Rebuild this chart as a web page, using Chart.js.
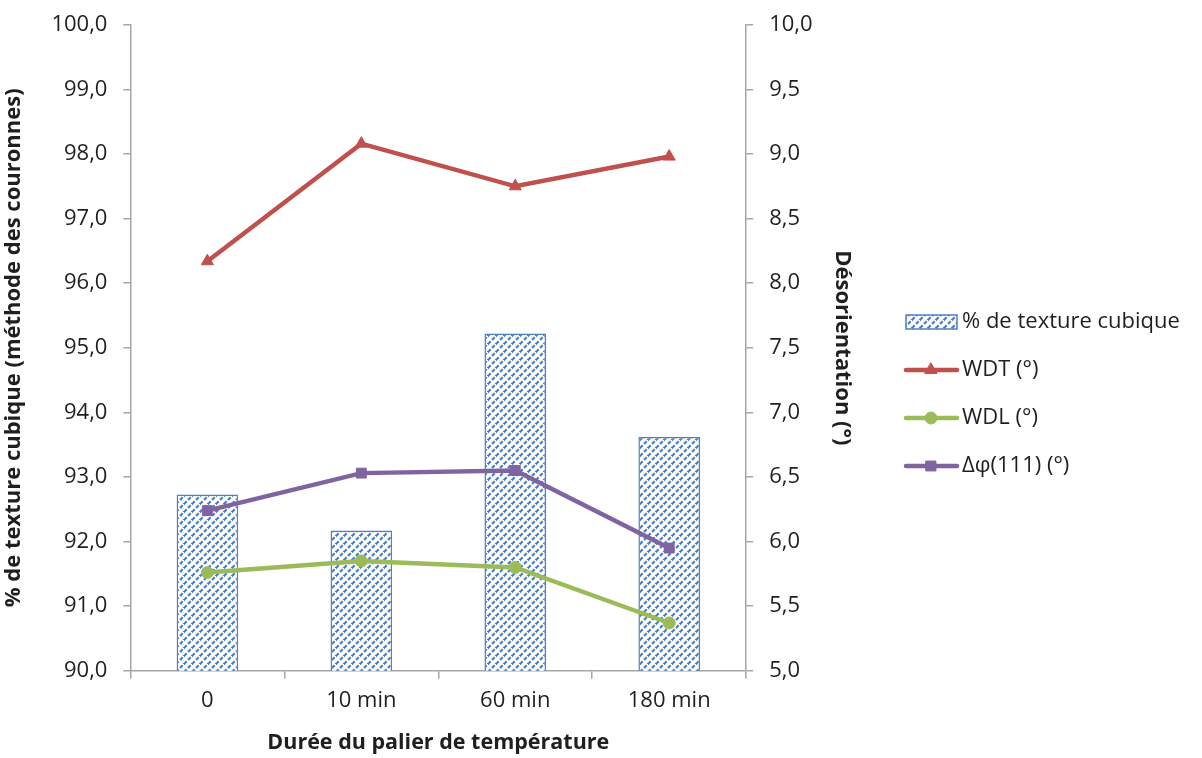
<!DOCTYPE html>
<html>
<head>
<meta charset="utf-8">
<script src="https://cdn.jsdelivr.net/npm/chart.js@4"></script>
<style>
  body { margin: 0; background: #fff; }
  #wrap { width: 1202px; height: 758px; }
</style>
</head>
<body>
<div id="wrap"><canvas id="myChart" width="1202" height="758"></canvas></div>
<script>
var categories = ['0', '10 min', '60 min', '180 min'];
var texture = [92.73, 92.17, 95.22, 93.62];
var wdt = [8.17, 9.08, 8.75, 8.98];
var wdl = [5.76, 5.85, 5.80, 5.37];
var dphi = [6.24, 6.53, 6.55, 5.95];

var FONT = '"Open Sans", Lato, sans-serif';
var BLUE = '#4f81bd';
var RED = '#c0504d';
var GREEN = '#9bbb59';
var PURPLE = '#8064a2';
var AXIS = '#a6a6a6';
var TEXT = '#1f1f1f';

function makeHatch() {
    var c = document.createElement('canvas');
    c.width = 8; c.height = 8;
    var g = c.getContext('2d');
    g.fillStyle = '#fff';
    g.fillRect(0, 0, 8, 8);
    g.strokeStyle = '#4a7dc0';
    g.lineWidth = 2.2;
    g.setLineDash([3.8, 1.86]);
    g.beginPath();
    g.moveTo(0, 8); g.lineTo(8, 0);
    g.stroke();
    g.beginPath();
    g.moveTo(-2, 2); g.lineTo(2, -2);
    g.moveTo(6, 10); g.lineTo(10, 6);
    g.stroke();
    return g.createPattern(c, 'repeat');
}

function fmt(v) {
    return Number(v).toFixed(1).replace('.', ',');
}

var ctx = document.getElementById('myChart');
var hatch = makeHatch();

var legendPlugin = {
    id: 'sideLegend',
    afterDraw: function(chart) {
        var g = chart.ctx;
        g.save();
        g.font = '22px ' + FONT;
        g.textBaseline = 'middle';
        // bar item
        g.fillStyle = hatch;
        g.fillRect(906, 315, 51, 14);
        g.strokeStyle = BLUE;
        g.lineWidth = 1.5;
        g.strokeRect(906, 315, 51, 14);
        g.fillStyle = TEXT;
        g.fillText('% de texture cubique', 962, 322);
        var items = [
            { label: 'WDT (°)', color: RED, style: 'triangle', r: 7, y: 370 },
            { label: 'WDL (°)', color: GREEN, style: 'circle', r: 6, y: 418 },
            { label: 'Δφ(111) (°)', color: PURPLE, style: 'rect', r: 7, y: 466 }
        ];
        items.forEach(function(it) {
            g.strokeStyle = it.color;
            g.lineWidth = 4.5;
            g.lineCap = 'round';
            g.beginPath();
            g.moveTo(906, it.y);
            g.lineTo(957, it.y);
            g.stroke();
            g.fillStyle = it.color;
            g.lineWidth = 1;
            Chart.helpers.drawPoint(g, { pointStyle: it.style, radius: it.r, borderWidth: 1 }, 931, it.y);
            g.fillStyle = TEXT;
            g.fillText(it.label, 962, it.y);
        });
        g.restore();
    }
};

function lineSet(label, data, color, style, r) {
    return {
        type: 'line',
        label: label,
        data: data,
        yAxisID: 'y2',
        borderColor: color,
        backgroundColor: color,
        borderWidth: 4.5,
        pointStyle: style,
        pointRadius: r,
        pointBorderWidth: 1,
        tension: 0,
        order: 1
    };
}

var myChart = new Chart(ctx, {
    data: {
        labels: categories,
        datasets: [
            {
                type: 'bar',
                label: '% de texture cubique',
                data: texture,
                yAxisID: 'y',
                backgroundColor: hatch,
                borderColor: BLUE,
                borderWidth: 1.5,
                barPercentage: 0.4,
                categoryPercentage: 1,
                order: 2
            },
            lineSet('WDT (°)', wdt, RED, 'triangle', 7),
            lineSet('WDL (°)', wdl, GREEN, 'circle', 6),
            lineSet('Δφ(111) (°)', dphi, PURPLE, 'rect', 7)
        ]
    },
    options: {
        responsive: false,
        animation: false,
        layout: { padding: { top: 0, left: 1, right: 339, bottom: 2 } },
        plugins: {
            legend: { display: false },
            tooltip: { enabled: false }
        },
        scales: {
            x: {
                offset: true,
                border: { color: AXIS, width: 1.5 },
                grid: { display: true, offset: true, drawOnChartArea: false, drawTicks: true, tickLength: 8, color: AXIS, lineWidth: 1.5 },
                ticks: { color: TEXT, font: { family: FONT, size: 22 }, padding: 9 },
                title: { display: true, text: 'Durée du palier de température', color: TEXT, font: { family: FONT, size: 21.5, weight: 'bold' }, padding: { top: 7, bottom: 0 } }
            },
            y: {
                position: 'left',
                min: 90, max: 100,
                border: { color: AXIS, width: 1.5 },
                grid: { display: true, drawOnChartArea: false, drawTicks: true, tickLength: 7, color: AXIS, lineWidth: 1.5 },
                ticks: { stepSize: 1, color: TEXT, font: { family: FONT, size: 22, lineHeight: 0.8 }, padding: 16, callback: function(v) { return fmt(v); } },
                title: { display: true, text: '% de texture cubique (méthode des couronnes)', color: TEXT, font: { family: FONT, size: 22, weight: 'bold' }, padding: { top: 0, bottom: 8 } }
            },
            y2: {
                position: 'right',
                min: 5, max: 10,
                border: { color: AXIS, width: 1.5 },
                grid: { display: true, drawOnChartArea: false, drawTicks: true, tickLength: 7, color: AXIS, lineWidth: 1.5 },
                ticks: { stepSize: 0.5, color: TEXT, font: { family: FONT, size: 22, lineHeight: 0.8 }, padding: 16, callback: function(v) { return fmt(v); } },
                title: { display: true, text: 'Désorientation (°)', color: TEXT, font: { family: FONT, size: 22, weight: 'bold' }, padding: { top: 8, bottom: 0 } }
            }
        }
    },
    plugins: [legendPlugin]
});
</script>
</body>
</html>
